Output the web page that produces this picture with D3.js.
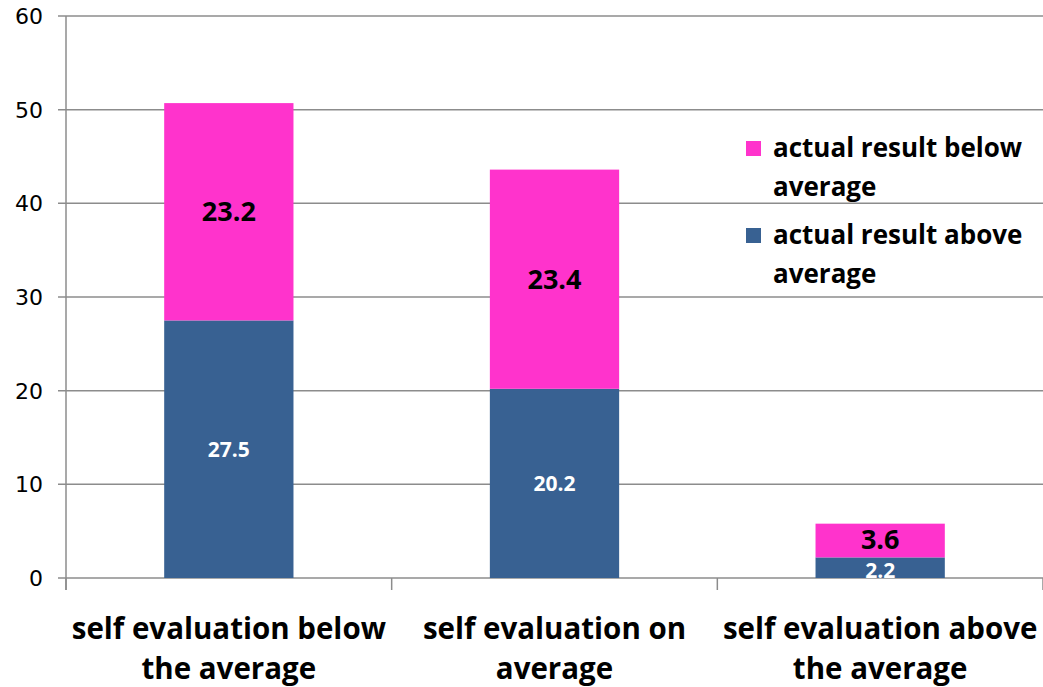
<!DOCTYPE html>
<html><head><meta charset="utf-8">
<script src="https://cdn.jsdelivr.net/npm/d3@7"></script>
<style>body{margin:0;background:#fff}</style>
</head><body><svg id="c" width="1043" height="687"></svg>
<script>
const categories = [["self evaluation below","the average"],["self evaluation on","average"],["self evaluation above","the average"]];
const above = [27.5, 20.2, 2.2];
const below = [23.2, 23.4, 3.6];
const seriesNames = [["actual result below","average"],["actual result above","average"]];
const yTicks = [0,10,20,30,40,50,60];
const colors = {above:"#386192", below:"#FF33CC"};

const svg = d3.select("#c");
const L=66, R=1043, T=16, B=578;
const y = d3.scaleLinear().domain([0,60]).range([B,T]);
const x = d3.scaleBand().domain(d3.range(3)).range([L,R]).paddingInner(0).paddingOuter(0);
const bw = x.bandwidth()*0.397;
const font = "'Open Sans', 'Noto Sans', sans-serif";

// gridlines
svg.append("g").selectAll("line").data(yTicks).join("line")
  .attr("x1",L-8).attr("x2",R).attr("y1",d=>y(d)).attr("y2",d=>y(d))
  .attr("stroke","#8c8c8c").attr("stroke-width",1.5);
svg.append("g").selectAll("text").data(yTicks).join("text")
  .attr("x",43).attr("y",d=>y(d)).attr("dy","0.36em").attr("text-anchor","end")
  .attr("font-family","'DejaVu Sans', sans-serif").attr("font-size",22).attr("fill","#000").text(d=>d);
// y axis
svg.append("line").attr("x1",L).attr("x2",L).attr("y1",T).attr("y2",B+12).attr("stroke","#8c8c8c").attr("stroke-width",1.5);
// x ticks
svg.append("g").selectAll("line").data(d3.range(4)).join("line")
  .attr("x1",i=>L+i*x.step()).attr("x2",i=>L+i*x.step()).attr("y1",B).attr("y2",B+12)
  .attr("stroke","#8c8c8c").attr("stroke-width",1.5);

const g = svg.append("g");
d3.range(3).forEach(i=>{
  const cx = x(i)+x.bandwidth()/2;
  g.append("rect").attr("x",cx-bw/2).attr("width",bw).attr("y",y(above[i])).attr("height",y(0)-y(above[i])).attr("fill",colors.above);
  g.append("rect").attr("x",cx-bw/2).attr("width",bw).attr("y",y(above[i]+below[i])).attr("height",y(0)-y(below[i])).attr("fill",colors.below);
  const ya = (y(0)+y(above[i]))/2;
  g.append("text").attr("x",cx).attr("y",i==2?ya+3:ya).attr("dy","0.36em").attr("text-anchor","middle")
    .attr("font-family",font).attr("font-weight","bold").attr("font-size",21).attr("fill","#fff").text(above[i].toFixed(1));
  const yb = (y(above[i])+y(above[i]+below[i]))/2;
  g.append("text").attr("x",cx).attr("y",i==2?yb-1:yb).attr("dy","0.36em").attr("text-anchor","middle")
    .attr("font-family",font).attr("font-weight","bold").attr("font-size",27).attr("fill","#000").text(below[i].toFixed(1));
  categories[i].forEach((t,j)=>{
    g.append("text").attr("x",cx).attr("y",628+j*40).attr("dy","0.36em").attr("text-anchor","middle")
      .attr("font-family",font).attr("font-weight","bold").attr("font-size",29.5).attr("fill","#000").text(t);
  });
});

// legend
const leg = svg.append("g");
[[seriesNames[0],colors.below,148],[seriesNames[1],colors.above,235]].forEach(([lines,c,yy])=>{
  leg.append("rect").attr("x",746).attr("y",yy-7).attr("width",15).attr("height",15).attr("fill",c);
  lines.forEach((t,j)=>{
    leg.append("text").attr("x",773).attr("y",yy+j*39).attr("dy","0.36em")
      .attr("font-family",font).attr("font-weight","bold").attr("font-size",26).attr("fill","#000").text(t);
  });
});
</script></body></html>
